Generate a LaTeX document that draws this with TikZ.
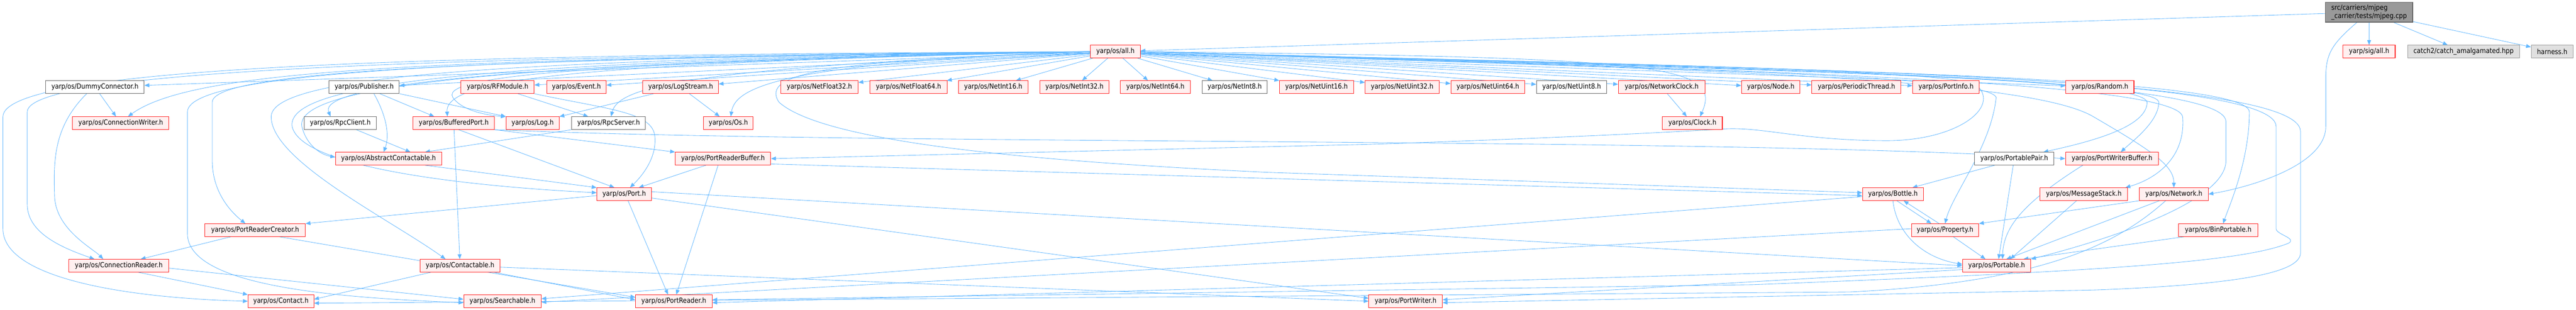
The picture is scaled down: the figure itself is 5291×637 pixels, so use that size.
\documentclass[tikz,border=0pt]{standalone}
\usepackage{fontspec}
\setmainfont{DejaVu Sans}[FakeStretch=0.88]
\usetikzlibrary{arrows.meta}
\definecolor{edgec}{HTML}{63B8FF}
\definecolor{nodered}{HTML}{FF2020}
\definecolor{nodefill}{HTML}{FFF0F0}
\definecolor{grayA}{HTML}{666666}
\definecolor{grayB}{HTML}{999999}
\definecolor{extfill}{HTML}{E0E0E0}
\pgfdeclarelayer{bg}
\pgfdeclarelayer{canvas}
\pgfsetlayers{canvas,bg,main}
\newcommand{\nfont}{\fontsize{14.5}{17}\selectfont}
\begin{document}
\begin{tikzpicture}[x=1pt,y=-1pt,
  box/.style={draw, line width=1.1pt, minimum height=26pt, inner xsep=2pt, inner ysep=0pt, font=\nfont},
  redbox/.style={box, draw=nodered, fill=nodefill},
  graybox/.style={box, draw=grayA, fill=white},
  extbox/.style={box, draw=grayB, fill=extfill},
  rootbox/.style={box, draw=grayA, fill=grayB, align=left, minimum height=41pt},
  e/.style={draw=edgec, line width=0.9pt, -{Triangle[length=10pt,width=8pt]}}
]
\begin{pgfonlayer}{canvas}
\fill[white] (0,0) rectangle (5291,637);
\end{pgfonlayer}
\useasboundingbox (0,0) rectangle (5291,637);
% row 0/1
\node[rootbox, minimum width=179pt] (root) at (4866,25) {src/carriers/mjpeg\\\_carrier/tests/mjpeg.cpp};
\node[redbox, minimum width=102pt] (all) at (2291,106) {yarp/os/all.h};
\node[redbox, minimum width=107pt] (sigall) at (4866,106) {yarp/sig/all.h};
\node[extbox, minimum width=230pt] (catch) at (5060,106) {catch2/catch\_amalgamated.hpp};
\node[extbox, minimum width=86pt] (harness) at (5242,106) {harness.h};
% row 2
\node[graybox, minimum width=202pt] (dummy) at (195,179) {yarp/os/DummyConnector.h};
\node[graybox, minimum width=144pt] (publisher) at (748,179) {yarp/os/Publisher.h};
\node[redbox, minimum width=150pt] (rfmodule) at (1022,179) {yarp/os/RFModule.h};
\node[redbox, minimum width=122pt] (event) at (1184,179) {yarp/os/Event.h};
\node[redbox, minimum width=155pt] (logstream) at (1398,179) {yarp/os/LogStream.h};
\node[redbox, minimum width=159pt] (nf32) at (1683,179) {yarp/os/NetFloat32.h};
\node[redbox, minimum width=159pt] (nf64) at (1866,179) {yarp/os/NetFloat64.h};
\node[redbox, minimum width=143pt] (ni16) at (2040,179) {yarp/os/NetInt16.h};
\node[redbox, minimum width=142pt] (ni32) at (2207,179) {yarp/os/NetInt32.h};
\node[redbox, minimum width=143pt] (ni64) at (2373,179) {yarp/os/NetInt64.h};
\node[graybox, minimum width=134pt] (ni8) at (2536,179) {yarp/os/NetInt8.h};
\node[redbox, minimum width=152pt] (nu16) at (2704,179) {yarp/os/NetUint16.h};
\node[redbox, minimum width=152pt] (nu32) at (2880,179) {yarp/os/NetUint32.h};
\node[redbox, minimum width=152pt] (nu64) at (3056,179) {yarp/os/NetUint64.h};
\node[graybox, minimum width=144pt] (nu8) at (3228,179) {yarp/os/NetUint8.h};
\node[redbox, minimum width=178pt] (netclock) at (3413,179) {yarp/os/NetworkClock.h};
\node[redbox, minimum width=120pt] (nodeh) at (3637,179) {yarp/os/Node.h};
\node[redbox, minimum width=183pt] (periodic) at (3813,179) {yarp/os/PeriodicThread.h};
\node[redbox, minimum width=137pt] (portinfo) at (3997,179) {yarp/os/PortInfo.h};
\node[redbox, minimum width=140pt] (random) at (4313,179) {yarp/os/Random.h};
% row 3
\node[redbox, minimum width=198pt] (cwriter) at (248,253) {yarp/os/ConnectionWriter.h};
\node[graybox, minimum width=148pt] (rpcclient) at (699,253) {yarp/os/RpcClient.h};
\node[redbox, minimum width=167pt] (buffered) at (932,253) {yarp/os/BufferedPort.h};
\node[redbox, minimum width=109pt] (log) at (1094,253) {yarp/os/Log.h};
\node[graybox, minimum width=151pt] (rpcserver) at (1250,253) {yarp/os/RpcServer.h};
\node[redbox, minimum width=102pt] (os) at (1496,253) {yarp/os/Os.h};
\node[redbox, minimum width=123pt] (clock) at (3476,253) {yarp/os/Clock.h};
% row 4
\node[redbox, minimum width=218pt] (abscont) at (798,326) {yarp/os/AbstractContactable.h};
\node[redbox, minimum width=196pt] (prbuffer) at (1485,326) {yarp/os/PortReaderBuffer.h};
\node[graybox, minimum width=163pt] (pair) at (4137,326) {yarp/os/PortablePair.h};
\node[redbox, minimum width=191pt] (pwbuffer) at (4338,326) {yarp/os/PortWriterBuffer.h};
% row 5
\node[redbox, minimum width=112pt] (port) at (1282,399) {yarp/os/Port.h};
\node[redbox, minimum width=125pt] (bottle) at (3888,399) {yarp/os/Bottle.h};
\node[redbox, minimum width=180pt] (msgstack) at (4280,399) {yarp/os/MessageStack.h};
\node[redbox, minimum width=141pt] (network) at (4465,399) {yarp/os/Network.h};
% row 6
\node[redbox, minimum width=206pt] (prcreator) at (524,473) {yarp/os/PortReaderCreator.h};
\node[redbox, minimum width=138pt] (property) at (3995,473) {yarp/os/Property.h};
\node[redbox, minimum width=162pt] (binport) at (4556,473) {yarp/os/BinPortable.h};
% row 7
\node[redbox, minimum width=205pt] (creader) at (244,546) {yarp/os/ConnectionReader.h};
\node[redbox, minimum width=164pt] (contactable) at (945,546) {yarp/os/Contactable.h};
\node[redbox, minimum width=140pt] (portable) at (4101,546) {yarp/os/Portable.h};
% row 8
\node[redbox, minimum width=135pt] (contact) at (577,619) {yarp/os/Contact.h};
\node[redbox, minimum width=159pt] (searchable) at (1032,619) {yarp/os/Searchable.h};
\node[redbox, minimum width=157pt] (preader) at (1384,619) {yarp/os/PortReader.h};
\node[redbox, minimum width=151pt] (pwriter) at (2887,619) {yarp/os/PortWriter.h};

\begin{pgfonlayer}{bg}
% root
\draw[e] (root) -- (all);
\draw[e] (root) -- (sigall);
\draw[e] (root) -- (catch);
\draw[e] (root) -- (harness);
\draw[e] ([xshift=-25pt]root.south) .. controls (4790,90) and (4777,110) .. (4777,160) -- (4777,260) .. controls (4777,340) and (4620,385) .. (network.east);
% all.h to row 2 (straight)
\foreach \t in {dummy,publisher,rfmodule,event,logstream,nf32,nf64,ni16,ni32,ni64,ni8,nu16,nu32,nu64,nu8,netclock,nodeh,periodic,portinfo,random}
  \draw[e] (all) -- (\t);
% all.h to deeper nodes, left side
\draw[e] (all.west) .. controls (900,120) and (400,140) .. ([xshift=15pt]cwriter.north);
\draw[e] (all.west) .. controls (1000,115) and (56,140) .. (56,230) -- (56,420) .. controls (56,480) and (130,510) .. ([xshift=-50pt]creader.north);
\draw[e] (all.west) .. controls (1000,112) and (6,130) .. (6,240) -- (6,470) .. controls (6,570) and (250,612) .. (contact.west);
\draw[e] (all.west) .. controls (1100,118) and (385,140) .. (385,230) -- (385,480) .. controls (385,590) and (700,612) .. ([yshift=-3pt]searchable.west);
\draw[e] (all.west) .. controls (1100,120) and (436,140) .. (436,210) -- (436,330) .. controls (436,400) and (480,440) .. ([xshift=-20pt]prcreator.north);
\draw[e] (all.west) .. controls (1100,122) and (557,150) .. (557,240) .. controls (557,330) and (800,450) .. ([xshift=-30pt]contactable.north);
\draw[e] (all.west) .. controls (1100,124) and (585,160) .. (600,260) .. controls (620,350) and (1000,385) .. ([yshift=3pt]port.west);
\draw[e] (all.west) .. controls (1100,126) and (603,170) .. (620,260) .. controls (630,300) and (660,318) .. ([yshift=3pt]abscont.west);
\draw[e] (all.west) .. controls (1100,128) and (650,170) .. ([xshift=-20pt]rpcclient.north);
\draw[e] (all.west) .. controls (1200,130) and (913,160) .. ([xshift=-13pt]buffered.north);
\draw[e] (all.west) .. controls (1300,128) and (900,150) .. (930,200) .. controls (950,230) and (1010,238) .. (log.north west);
\draw[e] (all.west) .. controls (1400,140) and (1270,180) .. ([xshift=5pt]rpcserver.north);
\draw[e] (all.west) .. controls (1600,130) and (1510,180) .. ([xshift=5pt]os.north);
\draw[e] (all.west) .. controls (1700,125) and (1560,150) .. (1600,210) .. controls (1700,300) and (2200,335) .. (2600,354) -- ([yshift=3pt]bottle.west);
% all.h to deeper nodes, right side
\draw[e] (all.east) .. controls (3200,130) and (4000,140) .. (4060,175) .. controls (4110,220) and (4020,289) .. (3876,289) .. controls (3700,289) and (3620,260) .. (3540,265) .. controls (3300,280) and (2800,298) .. (2750,298) -- (prbuffer.east);
\draw[e] (all.east) .. controls (3300,140) and (4080,150) .. (4100,200) .. controls (4090,300) and (4010,400) .. (property.north);
\draw[e] (all.east) .. controls (3300,140) and (4150,150) .. (4300,240) .. controls (4420,310) and (4465,340) .. (network.north);
\draw[e] (all.east) .. controls (3400,140) and (4400,150) .. (4410,210) .. controls (4410,260) and (4300,290) .. ([xshift=60pt]pair.north);
\draw[e] (all.east) .. controls (3400,140) and (4430,155) .. (4434,210) .. controls (4434,250) and (4380,290) .. ([xshift=18pt]pwbuffer.north);
\draw[e] (all.east) .. controls (3400,140) and (4470,160) .. (4483,240) .. controls (4490,330) and (4420,370) .. ([xshift=-5pt]msgstack.north east);
\draw[e] (all.east) .. controls (3500,140) and (4618,150) .. (4620,230) .. controls (4620,330) and (4580,420) .. ([xshift=10pt]binport.north);
\draw[e] (all.east) .. controls (3500,140) and (4572,150) .. (4572,250) -- (4572,330) .. controls (4572,420) and (4300,500) .. (portable.north east);
\draw[e] (all.east) .. controls (3600,140) and (4675,150) .. (4675,260) -- (4675,470) .. controls (4675,482) and (4720,490) .. (4700,500) .. controls (4600,540) and (4300,558) .. (3600,585) -- ([yshift=3pt]preader.east);
\draw[e] (all.east) .. controls (3600,140) and (4725,150) .. (4725,270) -- (4725,520) .. controls (4725,560) and (4600,585) .. (4300,596) -- ([yshift=-3pt]pwriter.east);
% other edges
\draw[e] (dummy) -- (cwriter);
\draw[e] ([xshift=-17pt]dummy.south) .. controls (110,260) and (110,330) .. (112,400) .. controls (112,470) and (190,510) .. ([xshift=-32pt]creader.north);
\draw[e] ([xshift=20pt]publisher.south) .. controls (795,240) and (800,280) .. ([xshift=-10pt]abscont.north);
\draw[e] (publisher) -- ([xshift=-40pt]buffered.north);
\draw[e] (publisher.south east) -- (log.north west);
\draw[e] (rpcclient) -- ([xshift=45pt]abscont.north);
\draw[e] (rpcserver.south west) -- ([xshift=75pt]abscont.north);
\draw[e] (rfmodule) -- (rpcserver);
\draw[e] (rfmodule.south east) .. controls (1250,225) and (1340,230) .. (1345,280) .. controls (1350,330) and (1310,370) .. ([xshift=12pt]port.north);
\draw[e] (logstream) -- (log);
\draw[e] (logstream) -- (os);
\draw[e] (netclock) -- (clock);
\draw[e] (all.east) .. controls (3400,118) and (3540,130) .. ([xshift=16pt]clock.north);
\draw[e] (buffered) -- (contactable);
\draw[e] ([xshift=10pt]buffered.south) -- ([xshift=-20pt]port.north);
\draw[e] (buffered.south east) -- (prbuffer.north west);
\draw[e] (buffered.south east) .. controls (1800,300) and (3500,280) .. (pwbuffer.west);
\draw[e] ([xshift=75pt]abscont.south) -- (port.north west);
\draw[e] ([xshift=-35pt]prbuffer.south) -- ([xshift=30pt]port.north);
\draw[e] ([xshift=-10pt]prbuffer.south) -- ([xshift=5pt]preader.north);
\draw[e] ([yshift=-11pt]prbuffer.east) -- ([yshift=-3pt]bottle.west);
\draw[e] ([xshift=8pt]port.south) -- ([xshift=-12pt]preader.north);
\draw[e] ([yshift=-3pt]port.west) -- (prcreator.north east);
\draw[e] ([yshift=5pt]port.east) -- (portable.west);
\draw[e] ([yshift=-8pt]port.east) -- ([yshift=6pt]pwriter.west);
\draw[e] ([xshift=-50pt]prcreator.south) -- ([xshift=45pt]creader.north);
\draw[e] ([xshift=50pt]prcreator.south) -- ([yshift=8pt]preader.west);
\draw[e] ([xshift=40pt]creader.south) -- (contact.north west);
\draw[e] ([yshift=-5pt]creader.east) -- ([yshift=4pt]searchable.west);
\draw[e] ([xshift=-60pt]contactable.south) -- ([yshift=4pt]contact.east);
\draw[e] ([xshift=70pt]contactable.south) -- ([yshift=3pt]preader.west);
\draw[e] ([yshift=-3pt]contactable.east) -- (pwriter.west);
\draw[e] ([xshift=-17pt]network.south) .. controls (4350,500) and (4200,580) .. (3800,600) -- ([yshift=-4pt]contact.east);
\draw[e] (network.south west) -- (property.north east);
\draw[e] ([xshift=-30pt]network.south) -- ([xshift=20pt]portable.north);
\draw[e] ([xshift=-15pt]msgstack.south) -- ([xshift=28pt]portable.north);
\draw[e] ([xshift=-70pt]binport.south) -- ([xshift=55pt]portable.north);
\draw[e] ([xshift=-60pt]pwbuffer.south) .. controls (4150,420) and (4115,470) .. ([xshift=12pt]portable.north);
\draw[e] ([xshift=-2pt]pair.south) -- ([xshift=4pt]portable.north);
\draw[e] ([xshift=-40pt]pair.south) -- ([xshift=40pt]bottle.north);
\draw[e] ([xshift=17pt]property.south) -- ([xshift=-23pt]portable.north);
\draw[e] (bottle.south) .. controls (3895,480) and (3950,530) .. ([yshift=3pt]portable.west);
\draw[e] ([xshift=8pt]bottle.south) -- ([xshift=-28pt]property.north);
\draw[e] ([xshift=-12pt]property.north) -- ([xshift=22pt]bottle.south);
\draw[e] ([yshift=-5pt]bottle.west) -- ([yshift=5pt]searchable.east);
\draw[e] ([yshift=3pt]property.west) -- ([yshift=-2pt]searchable.east);
\draw[e] ([yshift=-4pt]portable.west) -- ([yshift=-3pt]preader.east);
\draw[e] ([yshift=-8pt]portable.west) -- ([yshift=3pt]pwriter.east);
\end{pgfonlayer}
\end{tikzpicture}
\end{document}
